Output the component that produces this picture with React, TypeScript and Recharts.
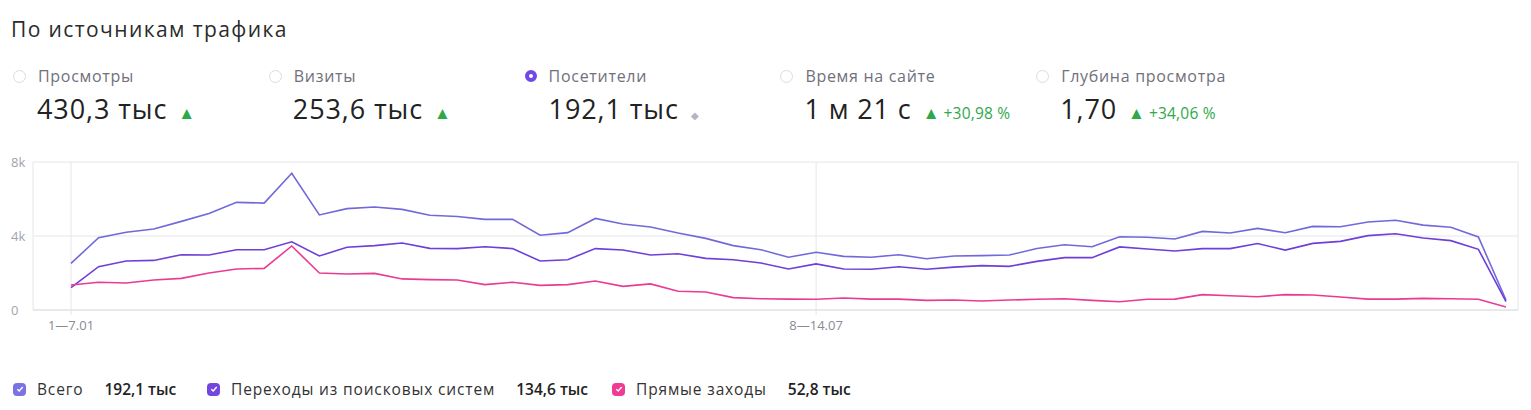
import { LineChart, Line, XAxis, YAxis, CartesianGrid } from "recharts";

// weekly values, thousands of visitors
const total = [
  2.52, 3.91, 4.2, 4.38, 4.79, 5.22, 5.82, 5.78, 7.39, 5.14, 5.48, 5.57, 5.44, 5.12, 5.05, 4.9, 4.9, 4.04,
  4.18, 4.95, 4.65, 4.49, 4.16, 3.87, 3.48, 3.26, 2.85, 3.12, 2.9, 2.85, 2.99, 2.77, 2.92, 2.94, 2.97, 3.32,
  3.53, 3.42, 3.96, 3.93, 3.84, 4.25, 4.16, 4.41, 4.18, 4.52, 4.5, 4.76, 4.85, 4.59, 4.47, 3.95, 0.54,
];
const search = [
  1.21, 2.34, 2.65, 2.68, 2.99, 2.97, 3.26, 3.26, 3.69, 2.92, 3.39, 3.48, 3.62, 3.33, 3.32, 3.42, 3.32, 2.65,
  2.72, 3.32, 3.24, 2.97, 3.04, 2.79, 2.72, 2.54, 2.22, 2.49, 2.22, 2.2, 2.34, 2.2, 2.32, 2.4, 2.36, 2.63,
  2.83, 2.83, 3.41, 3.3, 3.19, 3.32, 3.32, 3.59, 3.24, 3.6, 3.71, 4.02, 4.12, 3.89, 3.75, 3.28, 0.45,
];
const direct = [
  1.35, 1.5, 1.46, 1.62, 1.71, 2.0, 2.22, 2.25, 3.46, 2.0, 1.95, 1.98, 1.68, 1.64, 1.62, 1.37, 1.5, 1.33,
  1.37, 1.57, 1.28, 1.41, 1.01, 0.97, 0.67, 0.61, 0.59, 0.58, 0.65, 0.59, 0.59, 0.52, 0.54, 0.49, 0.54, 0.58,
  0.61, 0.52, 0.45, 0.58, 0.59, 0.83, 0.77, 0.72, 0.83, 0.81, 0.7, 0.59, 0.59, 0.63, 0.61, 0.58, 0.16,
];
const xTicks = [0, 27];
const xTickLabels = ["1—7.01", "8—14.07"];
const yTicks = [0, 4000, 8000];
const yTickLabels = ["0", "4k", "8k"];

const metrics = [
  { label: "Просмотры", value: "430,3 тыс", change: "", mark: "up" },
  { label: "Визиты", value: "253,6 тыс", change: "", mark: "up" },
  { label: "Посетители", value: "192,1 тыс", change: "", mark: "flat", active: true },
  { label: "Время на сайте", value: "1 м 21 с", change: "+30,98 %", mark: "up" },
  { label: "Глубина просмотра", value: "1,70", change: "+34,06 %", mark: "up" },
];

const legend = [
  { name: "Всего", value: "192,1 тыс", color: "#7b74e0" },
  { name: "Переходы из поисковых систем", value: "134,6 тыс", color: "#7446e0" },
  { name: "Прямые заходы", value: "52,8 тыс", color: "#f03a93" },
];
const legendWidths = [194, 405, 260];

const data = total.map((t, i) => ({
  i,
  total: t * 1000,
  search: search[i] * 1000,
  direct: direct[i] * 1000,
}));

const font = "'Open Sans', 'Noto Sans', sans-serif";

function YTick(props: any) {
  const idx = yTicks.indexOf(props.payload.value);
  return (
    <text x={11} y={props.y} dy="0.35em" fontSize={13} fill="#a3a3ad" fontFamily={font}>
      {yTickLabels[idx]}
    </text>
  );
}

function Check() {
  return (
    <svg width="8" height="8" viewBox="0 0 8 8" style={{ display: "block" }}>
      <path d="M1.3 4.2 L3.2 6 L6.7 2" stroke="#fff" strokeWidth="1.4" fill="none" />
    </svg>
  );
}

export default function App() {
  return (
    <div
      style={{
        position: "absolute",
        left: 0,
        top: 0,
        width: 1531,
        height: 410,
        background: "#fff",
        fontFamily: font,
        color: "#222",
      }}
    >
      <div style={{ position: "absolute", left: 11, top: 15, fontSize: 21, color: "#2b2b2b", letterSpacing: 1.4 }}>
        По источникам трафика
      </div>

      {metrics.map((m, k) => (
        <div key={m.label} style={{ position: "absolute", left: 13 + k * 255.8, top: 65 }}>
          <div style={{ display: "flex", alignItems: "center", height: 22 }}>
            <span
              style={{
                width: m.active ? 4 : 11,
                height: m.active ? 4 : 11,
                borderRadius: "50%",
                border: m.active ? "4px solid #7048e8" : "1px solid #dcdce2",
                background: "#fff",
                display: "inline-block",
              }}
            />
            <span style={{ marginLeft: 12, fontSize: 16, color: "#70707c", letterSpacing: 0.7 }}>{m.label}</span>
          </div>
          <div style={{ display: "flex", alignItems: "baseline", marginLeft: 24, marginTop: 3 }}>
            <span style={{ fontSize: 27, color: "#222", letterSpacing: 0.9 }}>{m.value}</span>
            {m.mark === "up" ? (
              <span style={{ marginLeft: 11, fontSize: 17, color: "#2fa84a" }}>▲</span>
            ) : (
              <span style={{ marginLeft: 12, fontSize: 10, color: "#b4b4c0" }}>◆</span>
            )}
            {m.change && (
              <span style={{ marginLeft: 4, fontSize: 15.5, color: "#2fa84a", letterSpacing: 0.2 }}>{m.change}</span>
            )}
          </div>
        </div>
      ))}

      <div style={{ position: "absolute", left: 0, top: 150 }}>
        <LineChart width={1531} height={200} data={data} margin={{ top: 12, right: 13, bottom: 0, left: 0 }}>
          <CartesianGrid stroke="#e6e6ec" vertical={true} horizontal={true} />
          <XAxis
            dataKey="i"
            type="number"
            domain={[0, 52]}
            ticks={xTicks}
            tickFormatter={(v: number) => xTickLabels[xTicks.indexOf(v)]}
            padding={{ left: 38, right: 12 }}
            axisLine={{ stroke: "#dcdce4" }}
            tickLine={{ stroke: "#e6e6ec" }}
            tickSize={5}
            tickMargin={6}
            height={40}
            tick={{ fontSize: 13, fill: "#8a8a94", fontFamily: font }}
          />
          <YAxis
            domain={[0, 8000]}
            ticks={yTicks}
            width={33}
            axisLine={false}
            tickLine={false}
            tick={<YTick />}
          />
          <Line dataKey="total" stroke="#7169da" strokeWidth={1.6} dot={false} isAnimationActive={false} />
          <Line dataKey="search" stroke="#6e3fd9" strokeWidth={1.6} dot={false} isAnimationActive={false} />
          <Line dataKey="direct" stroke="#ea3b92" strokeWidth={1.6} dot={false} isAnimationActive={false} />
        </LineChart>
      </div>

      <div style={{ position: "absolute", left: 13, top: 378, display: "flex", alignItems: "center", fontSize: 15.5 }}>
        {legend.map((l, k) => (
          <div key={l.name} style={{ display: "flex", alignItems: "center", width: legendWidths[k] }}>
            <span
              style={{
                width: 13,
                height: 13,
                borderRadius: 4,
                background: l.color,
                display: "inline-flex",
                alignItems: "center",
                justifyContent: "center",
              }}
            >
              <Check />
            </span>
            <span style={{ marginLeft: 11, color: "#333", letterSpacing: 0.85 }}>{l.name}</span>
            <span style={{ marginLeft: 21, fontWeight: 600, color: "#222" }}>{l.value}</span>
          </div>
        ))}
      </div>
    </div>
  );
}
